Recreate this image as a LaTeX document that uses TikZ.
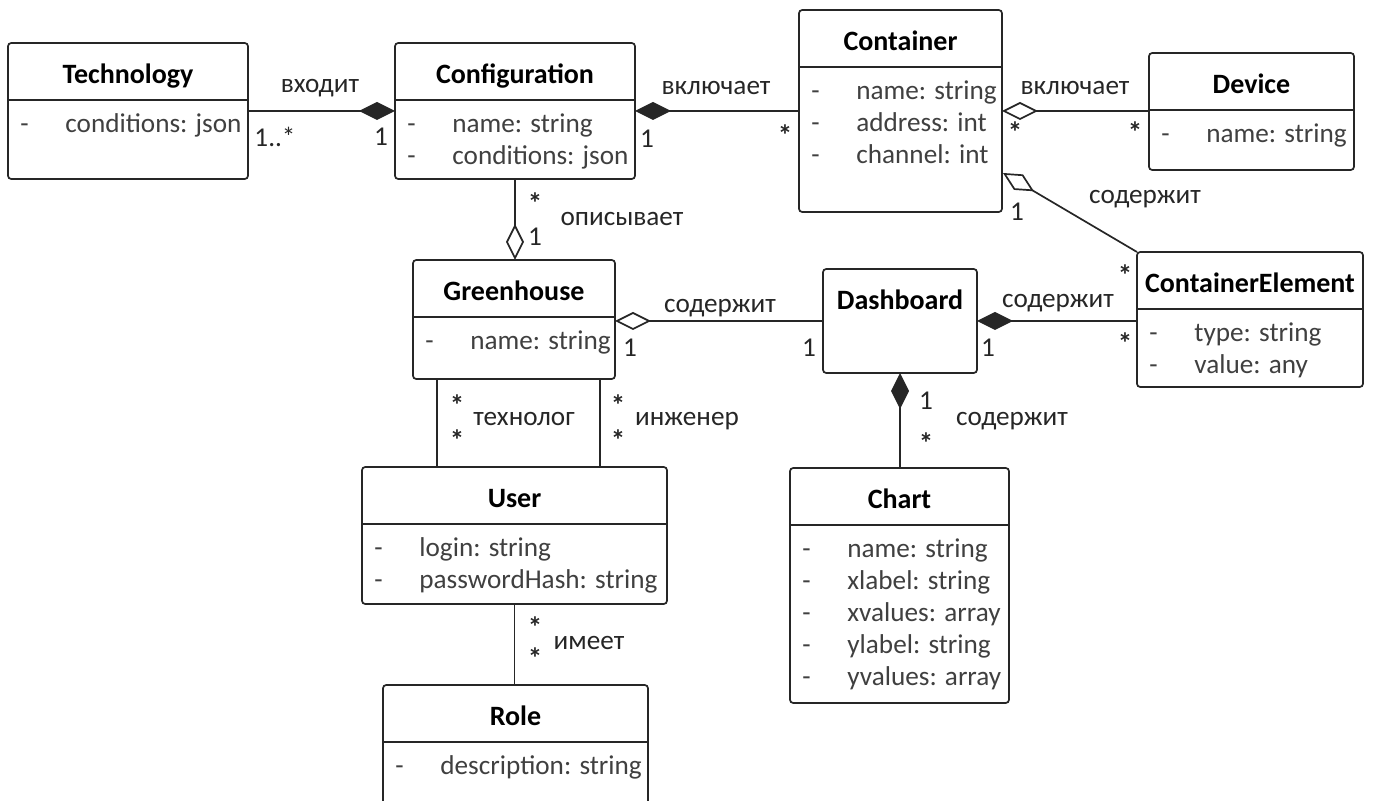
\documentclass[tikz,border=0pt]{standalone}
\usepackage{fontspec}
\setmainfont{Carlito}
\usetikzlibrary{arrows.meta,calc}
\definecolor{lncol}{HTML}{262626}
\definecolor{atcol}{HTML}{404040}
\newcommand\umlclass[6]{%
  \node[cls, minimum width=#4, minimum height=#5] (#1) at (#2,#3) {};
  \node[ttl] (#1-t) at ($(#1.north)+(0,41)$) {#6};
}
\newcommand\umldiv[1]{\draw[cline] ($(#1.north west)+(0,57)$) -- ($(#1.north east)+(0,57)$);}
\newcommand\umlattr[3]{%
  \node[atr] (#1-d#2) at ($(#1.north west)+(12,90+32*#2)$) {-};
  \node[atr] (#1-a#2) at ($(#1.north west)+(57,90+32*#2)$) {#3};
}
\begin{document}
\begin{tikzpicture}[x=0.5pt,y=-0.5pt,
  cls/.style={draw=lncol, line width=0.85pt, rounded corners=1.6pt, inner sep=0pt, outer sep=0pt, anchor=north west, fill=white},
  cline/.style={draw=lncol, line width=0.85pt},
  ttl/.style={anchor=base, inner sep=0pt, font=\fontsize{14}{16}\selectfont\bfseries, text=black},
  atr/.style={anchor=base west, inner sep=0pt, font=\fontsize{13.6}{16}\selectfont, text=atcol},
  lbl/.style={anchor=base, inner sep=0pt, font=\fontsize{13.6}{16}\selectfont, text=black!85},
  star/.style={lbl, font=\fontsize{14.5}{16}\selectfont\bfseries},
  conn/.style={draw=lncol, line width=0.85pt},
  comp/.style={{Diamond[length=18pt,width=9pt]}-},
  compr/.style={-{Diamond[length=18pt,width=9pt]}},
  aggr/.style={{Diamond[open,length=18pt,width=9pt,fill=white]}-},
  aggrr/.style={-{Diamond[open,length=18pt,width=9pt,fill=white]}}
]
\useasboundingbox (0,0) rectangle (1373,801);

% classes
\umlclass{tech}{8}{43}{120pt}{68pt}{Technology}
\umldiv{tech}
\umlattr{tech}{0}{conditions: json}

\umlclass{conf}{395}{43}{120pt}{68pt}{Configuration}
\umldiv{conf}
\umlattr{conf}{0}{name: string}
\umlattr{conf}{1}{conditions: json}

\umlclass{cont}{799}{10}{101.5pt}{101pt}{Container}
\umldiv{cont}
\umlattr{cont}{0}{name: string}
\umlattr{cont}{1}{address: int}
\umlattr{cont}{2}{channel: int}

\umlclass{dev}{1149}{53}{102.5pt}{58.5pt}{Device}
\umldiv{dev}
\umlattr{dev}{0}{name: string}

\umlclass{gh}{413}{260}{101pt}{59.5pt}{Greenhouse}
\umldiv{gh}
\umlattr{gh}{0}{name: string}

\umlclass{dash}{823}{269}{77pt}{52pt}{Dashboard}

\umlclass{ce}{1137}{252}{113pt}{67.5pt}{ContainerElement}
\umldiv{ce}
\umlattr{ce}{0}{type: string}
\umlattr{ce}{1}{value: any}

\umlclass{user}{362}{467}{152.5pt}{68.5pt}{User}
\umldiv{user}
\umlattr{user}{0}{login: string}
\umlattr{user}{1}{passwordHash: string}

\umlclass{role}{383}{685}{132.5pt}{70pt}{Role}
\umldiv{role}
\umlattr{role}{0}{description: string}

\umlclass{chart}{790}{468}{109.5pt}{117.5pt}{Chart}
\umldiv{chart}
\umlattr{chart}{0}{name: string}
\umlattr{chart}{1}{xlabel: string}
\umlattr{chart}{2}{xvalues: array}
\umlattr{chart}{3}{ylabel: string}
\umlattr{chart}{4}{yvalues: array}

% connectors
\draw[conn,compr] (tech.east) -- (conf.west);
\draw[conn,comp] (conf.east) -- (cont.west);
\draw[conn,aggr] (cont.east) -- (cont.east -| dev.west);
\coordinate (cdiag) at ($(cont.south east)+(1,-39)$);
\draw[conn,aggr] (cdiag) -- (ce.north west);
\draw[conn,aggrr] (conf.south) -- (conf.south |- gh.north);
\draw[conn,aggr] (gh.east |- dash.west) -- (dash.west);
\draw[conn,comp] (dash.east) -- (dash.east -| ce.west);
\draw[conn,comp] (dash.south) -- (dash.south |- chart.north);
\coordinate (g1) at ($(gh.south west)+(24,0)$);
\coordinate (g2) at ($(gh.south west)+(187,0)$);
\draw[conn] (g1) -- (g1 |- user.north);
\draw[conn] (g2) -- (g2 |- user.north);
\draw[conn] (user.south) -- (user.south |- role.north);

% labels
\node[lbl] (l1) at (320,93) {входит};
\node[lbl] (l2) at (275,147) {1..*};
\node[lbl] (l3) at (381,146) {1};
\node[lbl] (l4) at (716,95) {включает};
\node[lbl] (l5) at (647,148) {1};
\node[star] (l6) at (785,146) {*};
\node[lbl] (l7) at (1075,95) {включает};
\node[star] (l8) at (1015,143) {*};
\node[star] (l9) at (1135,143) {*};
\node[lbl] (l10) at (1145,204) {содержит};
\node[lbl] (l11) at (1017,221) {1};
\node[star] (l12) at (1125,286) {*};
\node[lbl] (l13) at (622,226) {описывает};
\node[star] (l14) at (535,214) {*};
\node[lbl] (l15) at (535,246) {1};
\node[lbl] (l16) at (720,313) {содержит};
\node[lbl] (l17) at (630,357) {1};
\node[lbl] (l18) at (809,357) {1};
\node[lbl] (l19) at (1058,308) {содержит};
\node[lbl] (l20) at (988,357) {1};
\node[star] (l21) at (1125,354) {*};
\node[lbl] (l22) at (926,410) {1};
\node[lbl] (l23) at (1012,426) {содержит};
\node[star] (l24) at (926,454) {*};
\node[lbl] (l25) at (524,426) {технолог};
\node[star] (l26) at (457,416) {*};
\node[star] (l27) at (457,451) {*};
\node[lbl] (l28) at (687,426) {инженер};
\node[star] (l29) at (618,416) {*};
\node[star] (l30) at (618,451) {*};
\node[lbl] (l31) at (589,650) {имеет};
\node[star] (l32) at (535,638) {*};
\node[star] (l33) at (535,669) {*};
\end{tikzpicture}
\end{document}
